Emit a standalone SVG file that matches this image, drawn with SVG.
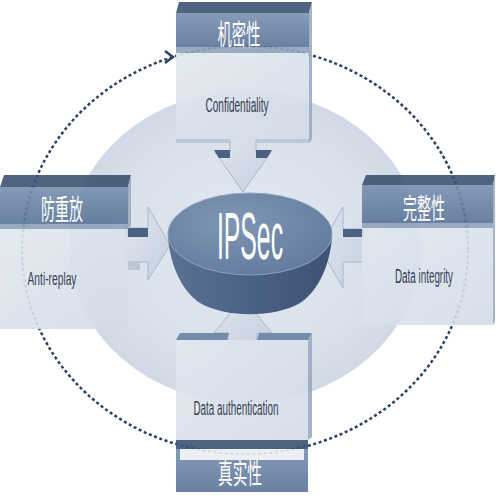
<svg xmlns="http://www.w3.org/2000/svg" width="500" height="500" viewBox="0 0 500 500">
<defs>
<radialGradient id="bg" cx="0.5" cy="0.5" r="0.5">
<stop offset="0" stop-color="#e3e9f1"/>
<stop offset="0.7" stop-color="#dae1eb"/>
<stop offset="1" stop-color="#d0d9e5"/>
</radialGradient>
<linearGradient id="hdr" x1="0" y1="0" x2="0" y2="1">
<stop offset="0" stop-color="#7890b0"/>
<stop offset="1" stop-color="#5b7397"/>
</linearGradient>
<linearGradient id="body" x1="0" y1="0" x2="1" y2="1">
<stop offset="0" stop-color="#e3e8f0"/>
<stop offset="1" stop-color="#d2dbe7"/>
</linearGradient>
<linearGradient id="side" x1="0" y1="0" x2="1" y2="0">
<stop offset="0" stop-color="#5a7194"/>
<stop offset="0.5" stop-color="#4b6185"/>
<stop offset="1" stop-color="#3d5273"/>
</linearGradient>
<radialGradient id="topE" cx="0.4" cy="0.35" r="0.7">
<stop offset="0" stop-color="#8096b5"/>
<stop offset="1" stop-color="#637b9e"/>
</radialGradient>
<linearGradient id="arr" x1="0" y1="0" x2="1" y2="1">
<stop offset="0" stop-color="#dfe5ee"/>
<stop offset="1" stop-color="#c5d0df"/>
</linearGradient>
</defs>
<style>
.top{fill:#3e5373}
.hdr{fill:url(#hdr)}
.band{fill:#8fa2bd}
.body{fill:url(#body)}
.edge{fill:#b9c5d5}
.cjk{font-family:"Noto Sans CJK SC","Noto Sans",sans-serif;font-size:28px;fill:#ffffff;text-anchor:middle}
.lbl{font-family:"Liberation Sans","Noto Sans",sans-serif;font-size:20px;fill:#1e2b42;text-anchor:middle}
.arrow{fill:url(#arr);stroke:#a9b8cc;stroke-width:1}
.face{fill:#4a6184}
.ring{fill:none;stroke:#2b4163;stroke-width:2.5;stroke-dasharray:3 2.6}
.box{opacity:0.9}
</style>
<rect width="500" height="500" fill="#ffffff"/>
<ellipse cx="245" cy="247" rx="176" ry="156" fill="url(#bg)"/>

<g id="connectors">
<ellipse class="ring" cx="245" cy="250" rx="223" ry="204"/>
<path d="M165,51 L173,57 L165,63" fill="none" stroke="#2b4163" stroke-width="2.4"/>
<polygon class="arrow" points="230,138 256,138 256,152 271,152 243,192 215,152 230,152"/>
<polygon class="face" points="214,150 230,150 230,158 219,158"/>
<polygon class="face" points="256,150 272,150 267,158 256,158"/>
<polygon class="arrow" points="125,228 148,228 148,207 170,245 148,280 148,262 125,262"/>
<rect class="face" x="126" y="228" width="22" height="9"/>
<polygon class="arrow" points="366,229 343,229 343,207 320,248 343,288 343,262 366,262"/>
<rect class="face" x="343" y="229" width="21" height="8"/>
<polygon class="arrow" points="228,345 257,345 257,333 272,333 243,298 214,333 228,333"/>
</g>

<g id="node-ipsec">
<path d="M168,236 C170,268 184,293 200,303 C226,318 274,318 300,303 C316,293 330,268 332,236 Z" fill="url(#side)"/>
<ellipse cx="250" cy="234" rx="82" ry="41" fill="url(#topE)" stroke="#8ea2be" stroke-width="1"/>
<text x="250" y="259" font-family="Liberation Sans, sans-serif" font-size="66" fill="#ffffff" text-anchor="middle" textLength="66" lengthAdjust="spacingAndGlyphs">IPSec</text>
</g>

<g id="node-confidentiality" class="box">
<polygon class="top" points="179,2 312,2 309,13 176,13"/>
<rect class="hdr" x="176" y="13" width="133" height="34"/>
<rect class="band" x="176" y="47" width="133" height="6"/>
<rect class="body" x="176" y="53" width="133" height="87"/>
<rect class="edge" x="176" y="139" width="54" height="4"/>
<rect class="edge" x="256" y="139" width="53" height="4"/>
<polygon fill="#9aabc3" points="309,13 312,2 312,139 309,143"/>
<text class="cjk" x="239" y="45" textLength="43" lengthAdjust="spacingAndGlyphs">机密性</text>
<text class="lbl" x="237" y="112" textLength="63" lengthAdjust="spacingAndGlyphs">Confidentiality</text>
</g>

<g id="node-antireplay" class="box">
<polygon class="top" points="4,175 131,175 128,187 0,187"/>
<rect class="hdr" x="0" y="187" width="128" height="37"/>
<rect class="band" x="0" y="224" width="128" height="5"/>
<rect class="body" x="0" y="229" width="128" height="100"/>
<polygon fill="#9aabc3" points="128,187 131,175 131,226 128,229"/>
<rect class="edge" x="128" y="262" width="12" height="8"/>
<text class="cjk" x="62" y="220" textLength="42" lengthAdjust="spacingAndGlyphs">防重放</text>
<text class="lbl" x="52" y="285" textLength="49" lengthAdjust="spacingAndGlyphs" style="font-size:19px">Anti-replay</text>
</g>

<g id="node-integrity" class="box">
<polygon class="top" points="366,175 495,175 493,185 362,185"/>
<rect class="hdr" x="362" y="185" width="131" height="38"/>
<rect class="band" x="362" y="223" width="131" height="5"/>
<rect class="body" x="362" y="228" width="131" height="97"/>
<polygon fill="#9aabc3" points="493,185 495,175 495,322 493,325"/>
<text class="cjk" x="424" y="219" textLength="42" lengthAdjust="spacingAndGlyphs">完整性</text>
<text class="lbl" x="424" y="283" textLength="58" lengthAdjust="spacingAndGlyphs">Data integrity</text>
</g>

<g id="node-authentication" class="box">
<polygon fill="#6a82a4" points="180,333 229,333 227,340 176,340"/>
<polygon fill="#6a82a4" points="259,333 312,333 308,340 257,340"/>
<rect class="body" x="176" y="340" width="132" height="100"/>
<polygon fill="#9aabc3" points="308,340 312,333 312,437 308,440"/>
<rect class="top" x="176" y="440" width="132" height="9"/>
<rect class="hdr" x="176" y="449" width="132" height="43"/>
<text class="cjk" x="240" y="484" textLength="44" lengthAdjust="spacingAndGlyphs">真实性</text>
<rect x="180" y="449" width="124" height="11" fill="#ffffff" opacity="0.85"/>
<text class="lbl" x="236" y="415" textLength="85" lengthAdjust="spacingAndGlyphs">Data authentication</text>
</g>
</svg>
